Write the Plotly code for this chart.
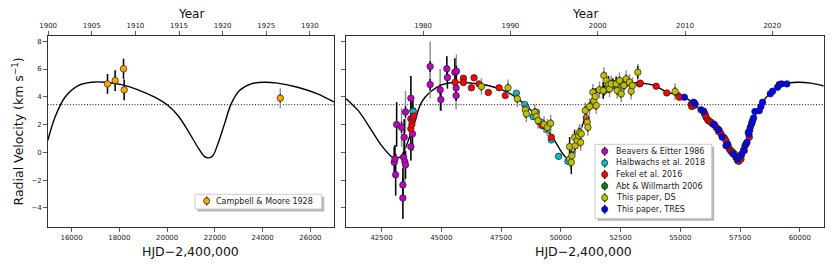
import plotly.graph_objects as go

# ---------------- data ----------------
gamma = 3.43

# model curve, left panel (HJD-2400000, km/s)
curve_left_x = [15000, 15305, 15722, 16278, 16837, 17392, 18090, 18783, 19480, 20036, 20453, 20870,
                21288, 21567, 21734, 21915, 22124, 22403, 22682, 23030, 23518, 24073, 24629, 25463,
                26298, 27000]
curve_left_y = [0.84, 2.53, 3.97, 4.81, 5.05, 5.05, 4.88, 4.50, 3.97, 3.37, 2.65, 1.57,
                0.36, -0.31, -0.40, -0.24, 0.60, 2.05, 3.49, 4.45, 4.93, 5.05, 4.98, 4.69,
                4.21, 3.61]

# model curve, right panel
curve_right_x = [41000, 41526, 42086, 42504, 42921, 43130, 43339, 43615, 43895, 44175, 44521, 45010,
                 45566, 46263, 46957, 47654, 48210, 48770, 49325, 49743, 50090, 50300, 50508, 50787,
                 51067, 51343, 51694, 52249, 53222, 53920, 54450, 55172, 55728, 56146, 56564, 56981,
                 57261, 57400, 57566, 57817, 58097, 58444, 58795, 59351, 59907, 60464, 61000]
curve_right_y = [3.88, 3.00, 1.57, 0.48, -0.31, -0.43, -0.24, 0.84, 2.29, 3.61, 4.33, 4.86,
                 5.05, 4.98, 4.81, 4.42, 3.85, 3.00, 1.93, 0.84, -0.12, -0.48, -0.12, 1.33,
                 2.77, 3.97, 4.65, 4.98, 5.00, 4.81, 4.33, 3.97, 3.25, 2.41, 1.57, 0.60,
                 -0.12, -0.55, -0.24, 1.08, 2.53, 3.61, 4.33, 4.93, 5.05, 4.98, 4.78]

# Campbell & Moore 1928
cm_x = [17504, 17824, 18174, 18202, 24740]
cm_y = [4.93, 5.17, 6.02, 4.50, 3.90]
cm_err = [0.72, 0.75, 0.72, 0.75, 0.30]
cm_err_jit = [0.72, 0.75, 0.72, 0.75, 0.72]

# Beavers & Eitter 1986
be_x = [43031, 43060, 43089, 43130, 43336, 43392, 43392, 43420, 43448, 43476, 43503, 43503, 43726,
        43726, 43726, 43795, 43810, 44534, 44534, 44952, 44981, 45231, 45257, 45566, 45633, 45620, 45620]
be_y = [-0.72, -0.48, -1.61, 2.00, 1.80, -2.35, -3.29, -0.36, 1.08, -0.67, -0.91, 2.91, 3.90,
        2.41, 0.41, 1.33, 3.00, 6.18, 4.88, 4.50, 3.80, 6.02, 5.39, 5.77, 5.84, 4.64, 4.09]
be_err = [1.10, 1.00, 1.50, 1.60, 0.40, 1.20, 1.50, 0.40, 1.30, 0.40, 1.00, 0.40, 1.60,
          1.20, 1.00, 1.20, 1.00, 0.40, 0.40, 0.40, 0.80, 0.90, 0.80, 1.00, 0.40, 0.90, 0.40]
be_err_jit = [1.10, 1.00, 1.50, 1.60, 1.40, 1.20, 1.50, 1.60, 1.30, 1.50, 1.00, 1.50, 1.60,
              1.20, 1.00, 1.20, 1.00, 1.80, 1.00, 1.50, 0.80, 0.90, 0.80, 1.00, 1.20, 0.90, 1.00]

# Halbwachs et al. 2018
ha_x = [43824, 48141, 48490, 48560, 48837, 48978, 49187, 49354, 49450, 49604, 49910, 50298]
ha_y = [2.94, 4.26, 3.44, 3.20, 2.58, 2.89, 2.17, 1.80, 1.60, 0.89, -0.29, -0.65]
ha_err = [0.20] * len(ha_x)

# Fekel et al. 2016
fe_x = [43726, 43768, 43795, 43824, 43853, 45578, 45925, 45925, 46259, 46370, 46579, 46968, 47415,
        47679, 49213, 49604, 51066, 53293, 53330, 53990, 54434, 54894, 54963, 55451, 55480, 55520,
        55590, 56007, 56050, 56077, 56147, 56200, 56286, 56355, 56425, 56495, 56564, 56600, 56634,
        56703, 56773, 56843, 56912, 56980, 57000, 57051, 57100, 57121, 57191, 57260, 57330, 57400,
        57450, 57469, 57539, 57678, 57887]
fe_y = [1.69, 2.00, 2.29, 2.48, 2.62, 5.05, 5.34, 5.03, 4.65, 5.37, 4.93, 4.31, 4.65,
        4.09, 1.93, 1.08, 2.48, 4.93, 4.98, 4.76, 4.28, 4.09, 3.97, 3.44, 3.30, 3.54,
        3.37, 2.81, 2.70, 2.53, 2.34, 2.25, 2.17, 2.05, 2.00, 1.80, 1.69, 1.50, 1.57,
        1.33, 1.13, 1.04, 0.84, 0.55, 0.45, 0.24, 0.15, 0.07, 0.00, -0.12, -0.31, -0.60,
        -0.65, -0.48, -0.48, 0.12, 1.08]
fe_err = [0.15] * len(fe_x)

# Abt & Willmarth 2006
ab_x = [51830, 52178, 52248, 52400, 52526, 52623, 52700]
ab_y = [4.45, 4.98, 4.81, 5.00, 4.93, 4.81, 4.90]
ab_err = [0.35] * len(ab_x)

# This paper, DS
ds_x = [46680, 47792, 48183, 48517, 48559, 48907, 48976, 49046, 49297, 49436, 49575, 50368, 50368,
        50438, 50466, 50577, 50605, 50689, 50744, 50786, 50828, 50856, 51023, 51106, 51134, 51203,
        51342, 51384, 51440, 51482, 51621, 51774, 51802, 51900, 51997, 52039, 52108, 52317, 52359,
        52456, 52526, 52637, 52734, 52874, 52943, 52999, 53222, 54782]
ds_y = [4.74, 4.65, 3.85, 3.06, 2.77, 2.89, 2.58, 2.29, 2.00, 1.80, 2.09, 0.41, -0.48,
        -0.72, -0.24, 1.08, 0.48, 0.84, 1.20, 1.44, 0.72, 1.33, 3.01, 2.17, 1.80, 3.30,
        4.33, 3.68, 4.02, 3.37, 4.50, 4.45, 5.53, 5.17, 4.88, 4.57, 4.93, 4.93, 4.45,
        5.17, 4.21, 4.81, 5.29, 5.05, 4.40, 4.81, 5.77, 4.38]
ds_err = [0.30, 0.30, 0.30, 0.30, 0.30, 0.30, 0.30, 0.30, 0.30, 0.30, 0.30, 0.70, 0.30,
          0.85, 0.30, 0.50, 0.30, 0.30, 0.50, 0.30, 0.30, 0.30, 0.30, 0.30, 0.30, 0.30,
          0.30, 0.30, 0.60, 0.30, 0.30, 0.60, 0.30, 0.30, 0.60, 0.30, 0.30, 0.50, 0.30,
          0.30, 0.30, 0.30, 0.30, 0.30, 0.30, 0.30, 0.45, 0.30]
ds_err_jit = [0.60] * len(ds_x)

# This paper, TRES
tr_x = [55172, 55562, 55618, 55868, 55980, 56400, 56600, 56750, 56912, 56981, 57200, 57330, 57372,
        57400, 57469, 57550, 57567, 57650, 57706, 57750, 57789, 57845, 57870, 57901, 57928, 57984,
        58000, 58026, 58067, 58123, 58304, 58374, 58444, 58764, 58861, 59070, 59139, 59237, 59460]
tr_y = [3.97, 3.61, 3.49, 3.06, 2.96, 2.00, 1.62, 1.10, 0.48, 0.60, -0.10, -0.36, -0.43,
        -0.50, -0.31, -0.20, -0.12, 0.17, 0.48, 0.60, 0.72, 1.44, 1.30, 1.57, 1.80, 2.05,
        2.15, 2.29, 2.48, 2.94, 3.00, 3.30, 3.61, 4.21, 4.40, 4.69, 4.88, 4.93, 4.93]
tr_err = [0.08] * len(tr_x)

left_range = [15000, 27000]
right_range = [41000, 61000]
y_range = [-5.4, 8.4]
y_ticks = [-4, -2, 0, 2, 4, 6, 8]
left_ticks = [16000, 18000, 20000, 22000, 24000, 26000]
right_ticks = [42500, 45000, 47500, 50000, 52500, 55000, 57500, 60000]
left_years = [1900, 1905, 1910, 1915, 1920, 1925, 1930]
right_years = [1980, 1990, 2000, 2010, 2020]

legend_names = ["Beavers & Eitter 1986", "Halbwachs et al. 2018", "Fekel et al. 2016",
                "Abt & Willmarth 2006", "This paper, DS", "This paper, TRES"]
legend_colors = ["#bf00bf", "#00bfbf", "#ff0000", "#008000", "#bfbf00", "#0000ff"]
legend2_names = ["Campbell & Moore 1928"]
legend2_colors = ["#ffa500"]


def hjd_to_year(h):
    return 2000.0 + (h - 51544.5) / 365.25


FONT = "DejaVu Sans"
W, H = 832, 268
fig = go.Figure()


def add_series(name, x, y, err, err_jit, color, xa, ya):
    if err_jit is not None:
        fig.add_trace(go.Scatter(
            x=x, y=y, mode="markers", xaxis=xa, yaxis=ya, showlegend=False,
            marker=dict(size=6.5, color="rgba(0,0,0,0)"), hoverinfo="skip",
            error_y=dict(type="data", array=err_jit, visible=True, color="#8c8c8c",
                         thickness=1.4, width=0)))
    fig.add_trace(go.Scatter(
        x=x, y=y, mode="markers", name=name, xaxis=xa, yaxis=ya, showlegend=False,
        marker=dict(size=6.5, color=color, line=dict(color="#222222", width=0.7)),
        error_y=dict(type="data", array=err, visible=True, color="black",
                     thickness=1.4, width=0)))


DOTTED = dict(color="black", width=1, dash="1px,1.8px")

# left panel
fig.add_trace(go.Scatter(x=left_range, y=[gamma, gamma], mode="lines", xaxis="x", yaxis="y",
                         line=DOTTED, showlegend=False, hoverinfo="skip"))
fig.add_trace(go.Scatter(x=curve_left_x, y=curve_left_y, mode="lines", xaxis="x", yaxis="y",
                         line=dict(color="black", width=1.4, shape="spline", smoothing=0.9),
                         showlegend=False, hoverinfo="skip"))
add_series(legend2_names[0], cm_x, cm_y, cm_err, cm_err_jit, legend2_colors[0], "x", "y")

# right panel
fig.add_trace(go.Scatter(x=right_range, y=[gamma, gamma], mode="lines", xaxis="x2", yaxis="y2",
                         line=DOTTED, showlegend=False, hoverinfo="skip"))
fig.add_trace(go.Scatter(x=curve_right_x, y=curve_right_y, mode="lines", xaxis="x2", yaxis="y2",
                         line=dict(color="black", width=1.4, shape="spline", smoothing=0.9),
                         showlegend=False, hoverinfo="skip"))
add_series(legend_names[0], be_x, be_y, be_err, be_err_jit, legend_colors[0], "x2", "y2")
add_series(legend_names[1], ha_x, ha_y, ha_err, None, legend_colors[1], "x2", "y2")
add_series(legend_names[2], fe_x, fe_y, fe_err, None, legend_colors[2], "x2", "y2")
add_series(legend_names[3], ab_x, ab_y, ab_err, None, legend_colors[3], "x2", "y2")
add_series(legend_names[4], ds_x, ds_y, ds_err, ds_err_jit, legend_colors[4], "x2", "y2")
add_series(legend_names[5], tr_x, tr_y, tr_err, None, legend_colors[5], "x2", "y2")

# dummy traces to activate the top (year) axes
fig.add_trace(go.Scatter(x=[hjd_to_year(v) for v in left_range], y=[None, None], xaxis="x3",
                         yaxis="y", mode="lines", showlegend=False, hoverinfo="skip"))
fig.add_trace(go.Scatter(x=[hjd_to_year(v) for v in right_range], y=[None, None], xaxis="x4",
                         yaxis="y2", mode="lines", showlegend=False, hoverinfo="skip"))

dl = [47.7 / W, 334.3 / W]
dr = [345.7 / W, 823.7 / W]
dy = [1 - 227.3 / H, 1 - 35.7 / H]

axis_common = dict(showline=True, linecolor="#333333", linewidth=1, mirror=True,
                   ticks="outside", ticklen=3.5, tickwidth=0.8, tickcolor="#333333",
                   showgrid=False, zeroline=False, automargin=False,
                   tickfont=dict(family=FONT, size=7, color="#222"))
top_common = {k: v for k, v in axis_common.items() if k != "mirror"}

# ---------- hand-drawn matplotlib-like legends (shapes + annotations) ----------
shapes = []
annotations = []


def px_x(v):
    return v / W


def px_y(v):
    return 1 - v / H


def draw_legend(box, names, colors, marker_x, text_x, first_y, step):
    x0, y0, x1, y1 = box
    # shadow
    shapes.append(dict(type="rect", xref="paper", yref="paper", layer="above",
                       x0=px_x(x0 + 2.5), x1=px_x(x1 + 2.5), y0=px_y(y0 + 2.5), y1=px_y(y1 + 2.5),
                       fillcolor="rgba(120,120,120,0.55)", line=dict(width=0)))
    shapes.append(dict(type="rect", xref="paper", yref="paper", layer="above",
                       x0=px_x(x0), x1=px_x(x1), y0=px_y(y0), y1=px_y(y1),
                       fillcolor="white", line=dict(color="#cccccc", width=1)))
    for i, (nm, col) in enumerate(zip(names, colors)):
        yc = first_y + i * step
        shapes.append(dict(type="line", xref="paper", yref="paper", layer="above",
                           x0=px_x(marker_x), x1=px_x(marker_x), y0=px_y(yc - 4.5), y1=px_y(yc + 4.5),
                           line=dict(color="black", width=1.3)))
        r = 3.1
        shapes.append(dict(type="circle", xref="paper", yref="paper", layer="above",
                           x0=px_x(marker_x - r), x1=px_x(marker_x + r),
                           y0=px_y(yc + r), y1=px_y(yc - r),
                           fillcolor=col, line=dict(color="#222222", width=0.7)))
        annotations.append(dict(text=nm, x=px_x(text_x), y=px_y(yc), xref="paper", yref="paper",
                                xanchor="left", yanchor="middle", showarrow=False,
                                font=dict(family=FONT, size=8, color="#222")))


draw_legend((595, 144.3, 711.7, 218.3), legend_names, legend_colors, 604.7, 613.5, 151.3, 11.6)
draw_legend((195, 194.3, 321.7, 209), legend2_names, legend2_colors, 206.7, 213.5, 201.0, 11.6)


def title(text, x, y, size, angle=0):
    return dict(text=text, x=px_x(x), y=px_y(y), xref="paper", yref="paper",
                xanchor="center", yanchor="middle", showarrow=False, borderpad=0,
                textangle=angle, font=dict(family=FONT, size=size, color="#111"))


annotations += [
    title("Radial Velocity (km s<sup>\u22121</sup>)", 17, 131.5, 12.5, -90),
    title("HJD\u22122,400,000", 190.7, 251.5, 12.5),
    title("HJD\u22122,400,000", 583.3, 251.5, 12.5),
    title("Year", 190.7, 13.5, 12),
    title("Year", 585, 13.5, 12),
]

fig.update_layout(
    width=W, height=H, margin=dict(l=0, r=0, t=0, b=0, autoexpand=False),
    paper_bgcolor="white", plot_bgcolor="white", showlegend=False,
    font=dict(family=FONT, color="#111"),
    xaxis=dict(domain=dl, range=left_range, tickvals=left_ticks,
               ticktext=[str(v) for v in left_ticks], anchor="y", **axis_common),
    yaxis=dict(domain=dy, range=y_range, tickvals=y_ticks,
               ticktext=[str(v).replace("-", "\u2212") for v in y_ticks], anchor="x", **axis_common),
    xaxis2=dict(domain=dr, range=right_range, tickvals=right_ticks,
                ticktext=[str(v) for v in right_ticks], anchor="y2", **axis_common),
    yaxis2=dict(domain=dy, range=y_range, tickvals=y_ticks, showticklabels=False, anchor="x2",
                **axis_common),
    xaxis3=dict(overlaying="x", side="top", anchor="y",
                range=[hjd_to_year(v) for v in left_range], tickvals=left_years,
                ticktext=[str(v) for v in left_years], **top_common),
    xaxis4=dict(overlaying="x2", side="top", anchor="y2",
                range=[hjd_to_year(v) for v in right_range], tickvals=right_years,
                ticktext=[str(v) for v in right_years], **top_common),
    shapes=shapes,
    annotations=annotations,
)

fig.write_html(
    "out.html",
    config={"displayModeBar": False, "staticPlot": True},
    post_script="document.body.style.margin='0';document.body.style.padding='0';"
                "document.documentElement.style.overflow='hidden';",
)
